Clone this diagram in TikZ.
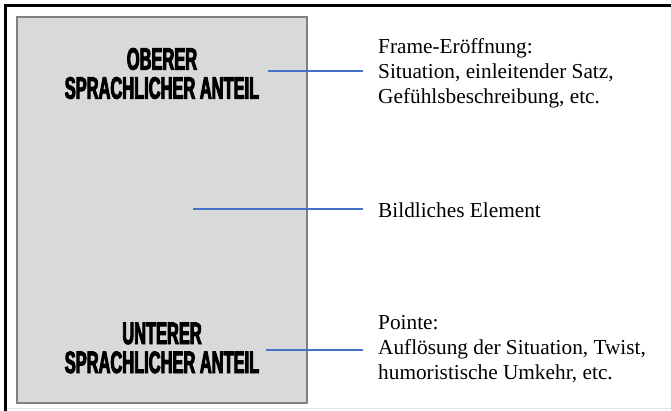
\documentclass[tikz,border=0pt]{standalone}
\usepackage{fontspec}
\setmainfont{Liberation Serif}
\newfontfamily\condfont[FakeStretch=0.53,FakeBold=3]{Liberation Sans Bold}
\definecolor{panelgray}{HTML}{D9D9D9}
\definecolor{panelline}{HTML}{808080}
\definecolor{leadblue}{HTML}{4472C4}
\begin{document}
\begin{tikzpicture}[x=1pt,y=-1pt,
  panel/.style={draw=panelline, fill=panelgray, line width=1.3pt, minimum width=290pt, minimum height=386pt, inner sep=0pt},
  heading/.style={align=center, font=\condfont\fontsize{31}{29}\selectfont, inner sep=0pt},
  note/.style={align=left, anchor=west, font=\fontsize{21.3}{25}\selectfont, inner xsep=15pt, inner ysep=0pt},
  leader/.style={draw=leadblue, line width=1.1pt}]
\useasboundingbox (0,0) rectangle (671,410);
\draw[line width=3pt, black] (5.5,411) -- (5.5,5.5) -- (672,5.5);
\draw[line width=1pt, black!12] (7,408.5) -- (671,408.5);
\node[panel] (box) at (162,210) {};
\node[heading] (top) at (162,73.5) {OBERER\\SPRACHLICHER ANTEIL};
\node[heading] (bot) at (162,348) {UNTERER\\SPRACHLICHER ANTEIL};
\node[note] (n1) at (363,73) {Frame-Eröffnung:\\Situation, einleitender Satz,\\Gefühlsbeschreibung, etc.};
\node[note] (n2) at (363,210) {Bildliches Element};
\node[note] (n3) at (363,349) {Pointe:\\Auflösung der Situation, Twist,\\humoristische Umkehr, etc.};
\coordinate (c1) at (268,71);
\coordinate (c2) at (193,209);
\coordinate (c3) at (266,350);
\draw[leader] (c1) -- (c1 -| n1.west);
\draw[leader] (c2) -- (c2 -| n2.west);
\draw[leader] (c3) -- (c3 -| n3.west);
\end{tikzpicture}
\end{document}
